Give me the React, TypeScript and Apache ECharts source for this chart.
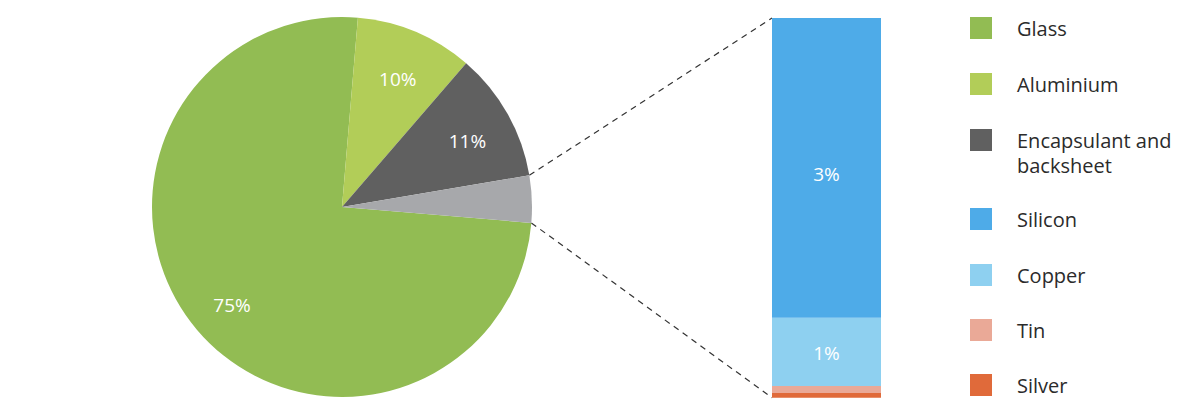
import React, { useEffect, useRef } from 'react';
import * as echarts from 'echarts';

const pieNames = ['Glass', 'Aluminium', 'Encapsulant and backsheet', 'Other'];
const pieValues = [75, 10, 11, 4];
const pieColors = ['#92bc53', '#b2cd58', '#606060', '#a7a8ab'];

const barNames = ['Silver', 'Tin', 'Copper', 'Silicon'];
const barValues = [0.05, 0.074, 0.72, 3.16];
const barColors = ['#e06a3a', '#eaa997', '#8ed0f0', '#4eabe8'];
const barLabels = ['', '', '1%', '3%'];

const legendNames = ['Glass', 'Aluminium', 'Encapsulant and backsheet', 'Silicon', 'Copper', 'Tin', 'Silver'];
const legendTexts = ['Glass', 'Aluminium', 'Encapsulant and\nbacksheet', 'Silicon', 'Copper', 'Tin', 'Silver'];

// layout
const CX = 342, CY = 207, R = 190;
const START_CW = 94.8; // clockwise degrees from 12 o'clock where first slice starts
const GRID_LEFT = 772, GRID_W = 109, GRID_TOP = 18, GRID_BOTTOM = 15.3;
const LEGEND_LEFT = 970;
const LEGEND_CENTERS = [29, 85, 140, 220, 276, 331, 386];
const BAR_LABEL_OFFSETS = [[0, 0], [0, 0], [0, 1], [0, 6]];
const FONT = '"Open Sans", sans-serif';

export default function App() {
  const ref = useRef<HTMLDivElement>(null);
  useEffect(() => {
    const chart = echarts.init(ref.current!, null, { renderer: 'svg' });
    const total = pieValues.reduce((a, b) => a + b, 0);
    const barTotal = barValues.reduce((a, b) => a + b, 0);

    // connector geometry for last slice
    const lastIdx = pieValues.length - 1;
    const endCw = START_CW;
    const startCw = START_CW - (360 * pieValues[lastIdx]) / total;
    const pt = (a: number) => {
      const rad = (a * Math.PI) / 180;
      return [CX + R * Math.sin(rad), CY - R * Math.cos(rad)];
    };
    const p1 = pt(startCw);
    const p2 = pt(endCw);
    const gridH = 413 - GRID_TOP - GRID_BOTTOM;

    const legends: any[] = legendNames.map((name, i) => {
      const multi = legendTexts[i].includes('\n');
      return {
        data: [name],
        orient: 'vertical',
        left: LEGEND_LEFT,
        top: multi ? LEGEND_CENTERS[i] - 11 - 26.5 : LEGEND_CENTERS[i] - 12,
        padding: 0,
        itemWidth: 22,
        itemHeight: 22,
        icon: 'rect',
        selectedMode: false,
        formatter: () => (multi ? '\n' + legendTexts[i] : legendTexts[i]),
        textStyle: multi
          ? { fontFamily: FONT, fontSize: 20, color: '#2b2b2b', lineHeight: 25, padding: [0, 0, 0, 20] }
          : { fontFamily: FONT, fontSize: 20, color: '#2b2b2b', padding: [0, 0, 0, 20] },
      };
    });

    chart.setOption({
      animation: false,
      color: pieColors,
      legend: legends,
      grid: { left: GRID_LEFT, width: GRID_W, top: GRID_TOP, bottom: GRID_BOTTOM },
      xAxis: { type: 'category', data: ['Other'], show: false },
      yAxis: { type: 'value', min: 0, max: barTotal, show: false },
      series: [
        {
          type: 'pie',
          center: [CX, CY],
          radius: [0, R],
          startAngle: 90 - START_CW,
          clockwise: true,
          label: { show: false },
          labelLine: { show: false },
          emphasis: { disabled: true },
          data: pieNames.map((n, i) => ({ name: n, value: pieValues[i], itemStyle: { color: pieColors[i] } })),
        },
        {
          type: 'pie',
          center: [CX, CY],
          radius: [92, R],
          startAngle: 90 - START_CW,
          clockwise: true,
          silent: true,
          itemStyle: { color: 'rgba(0,0,0,0)' },
          label: {
            show: true,
            position: 'inside',
            offset: [0, 5],
            color: '#ffffff',
            fontFamily: FONT,
            fontSize: 19,
            formatter: (p: any) => (p.dataIndex === lastIdx ? '' : `${p.value}%`),
          },
          labelLine: { show: false },
          emphasis: { disabled: true },
          data: pieNames.map((n, i) => ({ name: n + ' ', value: pieValues[i] })),
        },
        ...barNames.map((n, i) => ({
          type: 'bar',
          name: n,
          stack: 'breakdown',
          barWidth: '100%',
          itemStyle: { color: barColors[i] },
          emphasis: { disabled: true },
          label: {
            show: barLabels[i] !== '',
            position: 'inside',
            offset: BAR_LABEL_OFFSETS[i],
            color: '#ffffff',
            fontFamily: FONT,
            fontSize: 19,
            formatter: () => barLabels[i],
          },
          data: [barValues[i]],
        })),
      ],
      graphic: [
        {
          type: 'line',
          silent: true,
          shape: { x1: p1[0], y1: p1[1], x2: GRID_LEFT, y2: GRID_TOP },
          style: { stroke: '#333333', lineWidth: 1.2, lineDash: [6, 5] },
        },
        {
          type: 'line',
          silent: true,
          shape: { x1: p2[0], y1: p2[1], x2: GRID_LEFT, y2: GRID_TOP + gridH },
          style: { stroke: '#333333', lineWidth: 1.2, lineDash: [6, 5] },
        },
      ],
    });
    return () => chart.dispose();
  }, []);
  return (
    <div
      ref={ref}
      style={{ position: 'absolute', left: 0, top: 0, width: 1200, height: 413, background: '#ffffff' }}
    />
  );
}
